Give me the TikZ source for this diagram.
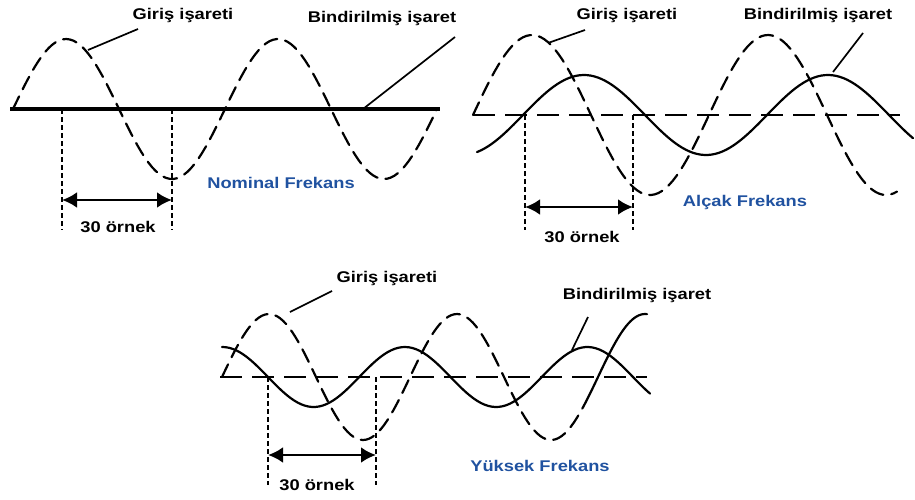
\documentclass[tikz,border=0pt]{standalone}
\usepackage{fontspec}
\newfontfamily\lab[FakeStretch=1.18]{Liberation Sans}
\usetikzlibrary{arrows.meta}
\definecolor{labblue}{RGB}{32,82,160}
\begin{document}
\begin{tikzpicture}[x=1pt,y=-1pt,
  lbl/.style={font=\lab\bfseries\fontsize{15.5}{18}\selectfont, inner sep=0pt},
  freq/.style={lbl, text=labblue},
  inwave/.style={line width=2.2pt, dash pattern=on 14pt off 8pt, line cap=round},
  supwave/.style={line width=2.2pt, line cap=round},
  baseln/.style={line width=2.2pt, dash pattern=on 22pt off 10pt},
  guide/.style={line width=1.6pt, dash pattern=on 5pt off 3pt},
  leader/.style={line width=1.7pt},
  span/.style={line width=2.8pt, {Latex[length=15pt,width=16pt]}-{Latex[length=15pt,width=16pt]}}
]
\useasboundingbox (0,0) rectangle (915,499);

% ---------------- Panel 1: Nominal ----------------
\coordinate (b1l) at (10,109);
\coordinate (b1r) at (440,109);
\draw[line width=3.6pt] (b1l) -- (b1r);
\draw[inwave] plot[domain=13:437, samples=120] (\x, {109 - 70*sin((\x-13)/212*360)});
\coordinate (v1a) at (62,109);  \coordinate (v1ab) at (62,230);
\coordinate (v1b) at (172,109); \coordinate (v1bb) at (172,230);
\draw[guide] (v1a) -- (v1ab);
\draw[guide] (v1b) -- (v1bb);
\coordinate (a1l) at (62,200); \coordinate (a1r) at (172,200);
\draw[span] (a1l) -- (a1r);
\node[lbl] (s1) at (118,227) {30 örnek};
\node[lbl] (g1) at (183,15) {Giriş işareti};
\coordinate (g1s) at (138,29); \coordinate (g1e) at (88,50);
\draw[leader] (g1s) -- (g1e);
\node[lbl] (bi1) at (382,18) {Bindirilmiş işaret};
\coordinate (bi1s) at (455,37); \coordinate (bi1e) at (363,109);
\draw[leader] (bi1s) -- (bi1e);
\node[freq] (f1) at (281,183) {Nominal Frekans};

% ---------------- Panel 2: Alcak ----------------
\coordinate (b2l) at (473,115);
\coordinate (b2r) at (900,115);
\draw[baseln] (b2l) -- (b2r);
\draw[inwave] plot[domain=473:897, samples=120] (\x, {115 - 80*sin((\x-473)/236*360)});
\draw[supwave] plot[domain=477:913, samples=120] (\x, {115 - 40*sin((\x-523)/244*360)});
\coordinate (v2a) at (525,115); \coordinate (v2ab) at (525,230);
\coordinate (v2b) at (633,115); \coordinate (v2bb) at (633,230);
\draw[guide] (v2a) -- (v2ab);
\draw[guide] (v2b) -- (v2bb);
\coordinate (a2l) at (525,207); \coordinate (a2r) at (633,207);
\draw[span] (a2l) -- (a2r);
\node[lbl] (s2) at (582,237) {30 örnek};
\node[lbl] (g2) at (627,15) {Giriş işareti};
\coordinate (g2s) at (585,30); \coordinate (g2e) at (548,43);
\draw[leader] (g2s) -- (g2e);
\node[lbl] (bi2) at (818,15) {Bindirilmiş işaret};
\coordinate (bi2s) at (863,33); \coordinate (bi2e) at (833,72);
\draw[leader] (bi2s) -- (bi2e);
\node[freq] (f2) at (745,202) {Alçak Frekans};

% ---------------- Panel 3: Yuksek ----------------
\coordinate (b3l) at (220,377);
\coordinate (b3r) at (647,377);
\draw[baseln] (b3l) -- (b3r);
\draw[inwave] plot[domain=222:586, samples=120] (\x, {377 - 63*sin((\x-222)/188*360)});
\draw[supwave] plot[domain=586:647, samples=30] (\x, {377 - 63*sin((\x-222)/188*360)});
\draw[supwave] plot[domain=222:650, samples=120] (\x, {377 + 30*sin((\x-268)/182.5*360)});
\coordinate (v3a) at (268,377); \coordinate (v3ab) at (268,485);
\coordinate (v3b) at (376,377); \coordinate (v3bb) at (376,485);
\draw[guide] (v3a) -- (v3ab);
\draw[guide] (v3b) -- (v3bb);
\coordinate (a3l) at (268,455); \coordinate (a3r) at (376,455);
\draw[span] (a3l) -- (a3r);
\node[lbl] (s3) at (317,485) {30 örnek};
\node[lbl] (g3) at (387,278) {Giriş işareti};
\coordinate (g3s) at (332,291); \coordinate (g3e) at (290,312);
\draw[leader] (g3s) -- (g3e);
\node[lbl] (bi3) at (637,295) {Bindirilmiş işaret};
\coordinate (bi3s) at (588,317); \coordinate (bi3e) at (572,350);
\draw[leader] (bi3s) -- (bi3e);
\node[freq] (f3) at (540,466) {Yüksek Frekans};
\end{tikzpicture}
\end{document}
